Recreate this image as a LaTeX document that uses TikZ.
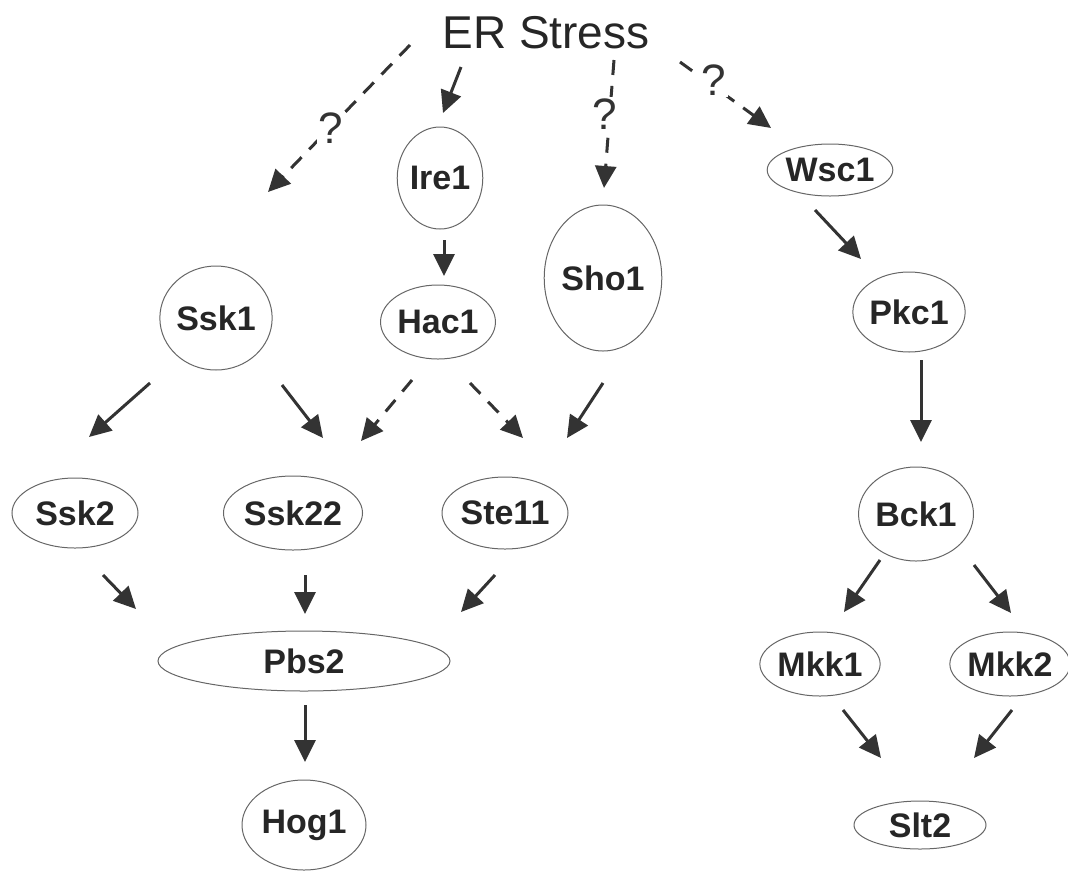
\documentclass[tikz,border=0pt]{standalone}
\usepackage{fontspec}
\setmainfont{Liberation Sans}
\usetikzlibrary{shapes.geometric,arrows.meta}
\tikzset{
  prot/.style={ellipse, draw=black!60, line width=1pt, inner sep=0pt,
    font=\fontsize{34}{34}\selectfont\bfseries, text=black!85},
  conn/.style={draw=black!80, line width=3pt,
    -{Triangle[length=22pt,width=21pt]}},
  dashconn/.style={conn, dash pattern=on 15pt off 11pt},
  qmark/.style={fill=white, inner sep=2pt, font=\fontsize{44}{44}\selectfont, text=black!80},
}
\begin{document}
\begin{tikzpicture}[x=1pt,y=-1pt]
\useasboundingbox (0,0) rectangle (1068,871);
% nodes
\node[font=\fontsize{46}{46}\selectfont, text=black!85] (er) at (546,33) {ER Stress};
\node[prot, minimum width=68pt, minimum height=102pt] (ire1) at (440,178) {Ire1};
\node[prot, minimum width=76pt, minimum height=74pt] (hac1) at (438,322) {Hac1};
\node[prot, minimum width=88pt, minimum height=146pt] (sho1) at (603,278) {Sho1};
\node[prot, minimum width=110pt, minimum height=104pt] (ssk1) at (216,318) {Ssk1};
\node[prot, minimum width=106pt, minimum height=52pt] (wsc1) at (830,170) {Wsc1};
\node[prot, minimum width=100pt, minimum height=80pt] (pkc1) at (909,312) {Pkc1};
\node[prot, minimum width=92pt, minimum height=94pt] (bck1) at (916,514) {Bck1};
\node[prot, minimum width=126pt, minimum height=70pt] (ssk2) at (75,513) {Ssk2};
\node[prot, minimum width=126pt, minimum height=74pt] (ssk22) at (293,513) {Ssk22};
\node[prot, minimum width=126pt, minimum height=72pt] (ste11) at (505,513) {Ste11};
\node[prot, minimum width=292pt, minimum height=60pt] (pbs2) at (304,661) {Pbs2};
\node[prot, minimum width=124pt, minimum height=90pt] (hog1) at (304,825) {Hog1};
\node[prot, minimum width=108pt, minimum height=64pt] (mkk1) at (820,664) {Mkk1};
\node[prot, minimum width=112pt, minimum height=64pt] (mkk2) at (1010,664) {Mkk2};
\node[prot, minimum width=132pt, minimum height=48pt] (slt2) at (920,825) {Slt2};
% connector end points
\coordinate (a1s) at (410,45);   \coordinate (a1t) at (268,192);
\coordinate (a2s) at (461,67);   \coordinate (a2t) at (443,113);
\coordinate (a3s) at (614,60);   \coordinate (a3t) at (604,188);
\coordinate (a4s) at (680,62);   \coordinate (a4t) at (771,128);
\coordinate (a5s) at (444,240);  \coordinate (a5t) at (444,276);
\coordinate (a6s) at (150,383);  \coordinate (a6t) at (89,437);
\coordinate (a7s) at (282,385);  \coordinate (a7t) at (323,438);
\coordinate (a8s) at (412,380);  \coordinate (a8t) at (361,441);
\coordinate (a9s) at (470,383);  \coordinate (a9t) at (523,438);
\coordinate (a10s) at (603,383); \coordinate (a10t) at (567,438);
\coordinate (a11s) at (103,575); \coordinate (a11t) at (136,609);
\coordinate (a12s) at (305,575); \coordinate (a12t) at (305,614);
\coordinate (a13s) at (495,575); \coordinate (a13t) at (461,612);
\coordinate (a14s) at (305,705); \coordinate (a14t) at (305,762);
\coordinate (a15s) at (815,210); \coordinate (a15t) at (861,259);
\coordinate (a16s) at (921,360); \coordinate (a16t) at (921,442);
\coordinate (a17s) at (880,560); \coordinate (a17t) at (844,612);
\coordinate (a18s) at (974,565); \coordinate (a18t) at (1011,613);
\coordinate (a19s) at (843,710); \coordinate (a19t) at (881,758);
\coordinate (a20s) at (1012,710);\coordinate (a20t) at (974,758);
% connectors
\draw[dashconn] (a1s) -- (a1t);
\draw[conn] (a2s) -- (a2t);
\draw[dashconn] (a3s) -- (a3t);
\draw[dashconn] (a4s) -- (a4t);
\draw[conn] (a5s) -- (a5t);
\draw[conn] (a6s) -- (a6t);
\draw[conn] (a7s) -- (a7t);
\draw[dashconn] (a8s) -- (a8t);
\draw[dashconn] (a9s) -- (a9t);
\draw[conn] (a10s) -- (a10t);
\draw[conn] (a11s) -- (a11t);
\draw[conn] (a12s) -- (a12t);
\draw[conn] (a13s) -- (a13t);
\draw[conn] (a14s) -- (a14t);
\draw[conn] (a15s) -- (a15t);
\draw[conn] (a16s) -- (a16t);
\draw[conn] (a17s) -- (a17t);
\draw[conn] (a18s) -- (a18t);
\draw[conn] (a19s) -- (a19t);
\draw[conn] (a20s) -- (a20t);
% question marks
\node[qmark] (q1) at (331,128) {?};
\node[qmark] (q2) at (605,114) {?};
\node[qmark] (q3) at (714,80) {?};
\end{tikzpicture}
\end{document}
